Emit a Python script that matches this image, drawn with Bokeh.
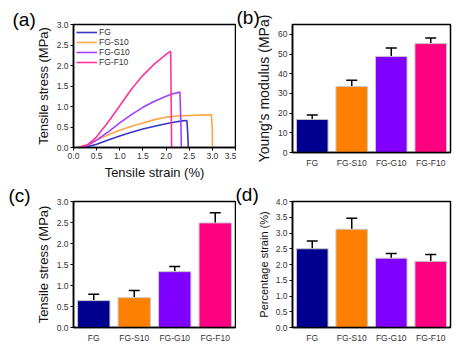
from bokeh.plotting import figure
from bokeh.models import Title, Whisker, ColumnDataSource, TeeHead, Legend, LegendItem, FactorRange
from bokeh.layouts import column, row
from bokeh.embed import file_html
from bokeh.resources import INLINE

# ---------------- data ----------------
samples = ["FG", "FG-S10", "FG-G10", "FG-F10"]
bar_colors = ["#000090", "#FF8000", "#8000FF", "#FF0080"]
line_colors = ["#3535C8", "#FFA545", "#A040FF", "#FF3399"]

# (a) stress-strain curves
fg_strain = [0.15, 0.3, 0.5, 0.75, 1.0, 1.25, 1.5, 1.75, 2.0, 2.2, 2.35, 2.45, 2.47, 2.48]
fg_stress = [0.0, 0.02, 0.08, 0.18, 0.28, 0.37, 0.45, 0.52, 0.58, 0.62, 0.65, 0.66, 0.3, 0.0]
s10_strain = [0.1, 0.3, 0.5, 0.75, 1.0, 1.25, 1.5, 1.75, 2.0, 2.25, 2.5, 2.75, 2.98, 3.0, 3.0]
s10_stress = [0.0, 0.07, 0.18, 0.31, 0.42, 0.52, 0.6, 0.68, 0.74, 0.77, 0.78, 0.79, 0.8, 0.4, 0.0]
g10_strain = [0.1, 0.3, 0.5, 0.75, 1.0, 1.25, 1.5, 1.75, 2.0, 2.15, 2.3, 2.32, 2.33]
g10_stress = [0.0, 0.05, 0.18, 0.38, 0.6, 0.8, 0.98, 1.13, 1.25, 1.31, 1.35, 0.6, 0.0]
f10_strain = [0.1, 0.3, 0.5, 0.75, 1.0, 1.25, 1.5, 1.75, 2.0, 2.1, 2.11, 2.12]
f10_stress = [0.0, 0.06, 0.26, 0.62, 1.02, 1.42, 1.76, 2.04, 2.27, 2.35, 1.2, 0.0]

# (b) Young's modulus
modulus = [16.8, 33.5, 48.8, 55.3]
modulus_err = [2.3, 3.2, 4.3, 2.8]
# (c) tensile stress
stress = [0.64, 0.71, 1.33, 2.49]
stress_err = [0.15, 0.17, 0.12, 0.24]
# (d) percentage strain
pstrain = [2.5, 3.12, 2.2, 2.1]
pstrain_err = [0.25, 0.35, 0.15, 0.22]

FONT = "Liberation Sans"


def style(p, xlabel, ylabel, ylab_size="12px"):
    p.outline_line_color = "black"
    p.outline_line_width = 1.5
    p.xgrid.visible = False
    p.ygrid.visible = False
    for ax in (p.xaxis[0], p.yaxis[0]):
        ax.axis_line_color = "black"
        ax.axis_line_width = 1.5
        ax.major_tick_line_color = "black"
        ax.major_tick_in = 0
        ax.major_tick_out = 3
        ax.minor_tick_line_color = None
        ax.major_label_text_font = FONT
        ax.major_label_text_font_size = "8.5px"
        ax.major_label_text_color = "#333333"
        ax.major_label_standoff = 2
        ax.axis_label_text_font = FONT
        ax.axis_label_text_font_style = "normal"
        ax.axis_label_text_color = "#111111"
        ax.axis_label_standoff = 3
    p.xaxis[0].axis_label = xlabel
    p.yaxis[0].axis_label = ylabel
    p.xaxis[0].axis_label_text_font_size = "13px"
    p.yaxis[0].axis_label_text_font_size = ylab_size


def panel_label(p, text, offset, standoff):
    p.add_layout(Title(text=text, align="left", offset=offset, standoff=standoff,
                       text_font=FONT, text_font_size="19px", text_font_style="normal",
                       text_color="black"), "above")


# ---------------- (a) ----------------
pa = figure(width=236, height=182, x_range=(0, 3.5), y_range=(0, 3.0),
            output_backend="svg", toolbar_location=None,
            min_border_left=73, min_border_right=1, min_border_top=24, min_border_bottom=30)
style(pa, "Tensile strain (%)", "Tensile stress (MPa)", "13px")
pa.xaxis.ticker = [0, 0.5, 1.0, 1.5, 2.0, 2.5, 3.0, 3.5]
pa.yaxis.ticker = [0, 0.5, 1.0, 1.5, 2.0, 2.5, 3.0]
pa.xaxis.major_label_overrides = {0: "0.0", 1: "1.0", 2: "2.0", 3: "3.0"}
pa.yaxis.major_label_overrides = {0: "0.0", 1: "1.0", 2: "2.0", 3: "3.0"}
curves = [(fg_strain, fg_stress), (s10_strain, s10_stress), (g10_strain, g10_stress), (f10_strain, f10_stress)]
items = []
for (xs, ys), c, name in zip(curves, line_colors, samples):
    r = pa.line(xs, ys, line_color=c, line_width=1.6)
    items.append(LegendItem(label=name, renderers=[r]))
leg = Legend(items=items, location="top_left", border_line_color=None,
             background_fill_alpha=0, label_text_font=FONT, label_text_font_size="8.5px",
             label_text_color="#333333", glyph_width=21, glyph_height=10, label_height=10,
             label_standoff=2, spacing=0, padding=0, margin=3)
pa.add_layout(leg)
panel_label(pa, "(a)", -61, -10)


def bar_panel(values, errs, ylabel, yend, ticks, width, height, mbl, mbr, mbt, mbb, ylab_size, overrides):
    p = figure(width=width, height=height, x_range=FactorRange(*samples), y_range=(0, yend),
               output_backend="svg", toolbar_location=None,
               min_border_left=mbl, min_border_right=mbr, min_border_top=mbt, min_border_bottom=mbb)
    style(p, "", ylabel, ylab_size)
    p.xaxis.axis_label = None
    p.xaxis.major_tick_line_color = None
    p.yaxis.ticker = ticks
    p.yaxis.major_label_overrides = overrides
    src = ColumnDataSource(dict(x=samples, top=values, up=[v + e for v, e in zip(values, errs)], color=bar_colors))
    p.vbar(x="x", top="top", width=0.8, fill_color="color", line_color="#c8c8c8", line_width=1, source=src)
    w = Whisker(base="x", lower="top", upper="up", source=src, dimension="height",
                line_color="black", line_width=1.5,
                upper_head=TeeHead(size=11, line_color="black", line_width=1.5), lower_head=None)
    p.add_layout(w)
    return p


pb = bar_panel(modulus, modulus_err, "Young's modulus (MPa)", 65, [0, 10, 20, 30, 40, 50, 60],
               230, 170, 56, 16, 24, 18, "14px", {})
panel_label(pb, "(b)", -56, -7)

pc = bar_panel(stress, stress_err, "Tensile stress (MPa)", 3.0, [0, 0.5, 1.0, 1.5, 2.0, 2.5, 3.0],
               236, 166, 73, 1, 19, 21, "13px", {0: "0.0", 1: "1.0", 2: "2.0", 3: "3.0"})
panel_label(pc, "(c)", -65, -9)

pd = bar_panel(pstrain, pstrain_err, "Percentage strain (%)", 4.0, [0, 0.5, 1.0, 1.5, 2.0, 2.5, 3.0, 3.5, 4.0],
               230, 178, 56, 16, 31, 21, "11px", {0: "0.0", 1: "1.0", 2: "2.0", 3: "3.0", 4: "4.0"})
panel_label(pd, "(d)", -57, -6)

layout = row(column(pa, pc), column(pb, pd))
open("out.html", "w").write(file_html(layout, INLINE))
